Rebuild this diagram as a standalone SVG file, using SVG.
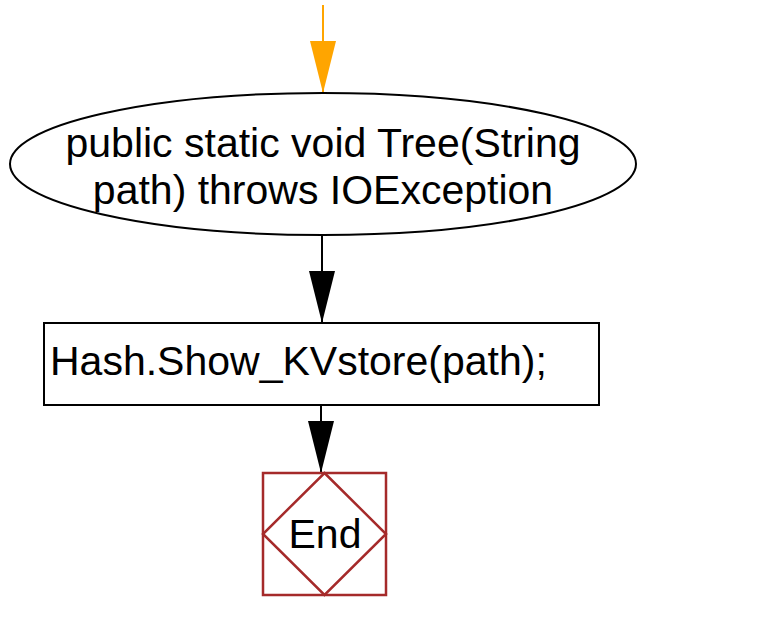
<svg xmlns="http://www.w3.org/2000/svg" width="757" height="623" viewBox="0 0 757 623">
  <style>
    .lbl { font-family: "Liberation Sans", Arial, sans-serif; font-size: 41px; fill: #000000; }
    .shape { fill: #ffffff; stroke: #000000; stroke-width: 2; }
    .conn { fill: none; stroke: #000000; stroke-width: 2; }
    .end { fill: #ffffff; stroke: #a52a2a; stroke-width: 2.5; }
  </style>
  <defs>
    <marker id="headBlack" markerUnits="userSpaceOnUse" viewBox="0 -14 53 28" refX="52" refY="0" markerWidth="53" markerHeight="28" orient="auto">
      <path d="M0,-13 L52,0 L0,13 Z" fill="#000000"/>
    </marker>
    <marker id="headOrange" markerUnits="userSpaceOnUse" viewBox="0 -14 53 28" refX="52" refY="0" markerWidth="53" markerHeight="28" orient="auto">
      <path d="M0,-13 L52,0 L0,13 Z" fill="#ffa500"/>
    </marker>
  </defs>
  <rect x="0" y="0" width="757" height="623" fill="#ffffff"/>
  <g id="connectors">
    <line x1="323" y1="5" x2="323" y2="93" stroke="#ffa500" stroke-width="2" marker-end="url(#headOrange)"/>
    <line class="conn" x1="322" y1="236" x2="322" y2="323" marker-end="url(#headBlack)"/>
    <line class="conn" x1="321" y1="405" x2="321" y2="473" marker-end="url(#headBlack)"/>
  </g>
  <g id="start">
    <ellipse class="shape" cx="323" cy="164" rx="313" ry="71"/>
    <text class="lbl" x="323" y="157" text-anchor="middle">public static void Tree(String</text>
    <text class="lbl" x="323" y="204" text-anchor="middle">path) throws IOException</text>
  </g>
  <g id="show">
    <rect class="shape" x="44" y="323" width="555" height="82"/>
    <text class="lbl" x="50" y="375">Hash.Show_KVstore(path);</text>
  </g>
  <g id="end">
    <rect class="end" x="263" y="473" width="123" height="122"/>
    <polygon class="end" points="324.5,473 386,534 324.5,595 263,534" fill="none"/>
    <text class="lbl" x="325" y="548" text-anchor="middle">End</text>
  </g>
</svg>
